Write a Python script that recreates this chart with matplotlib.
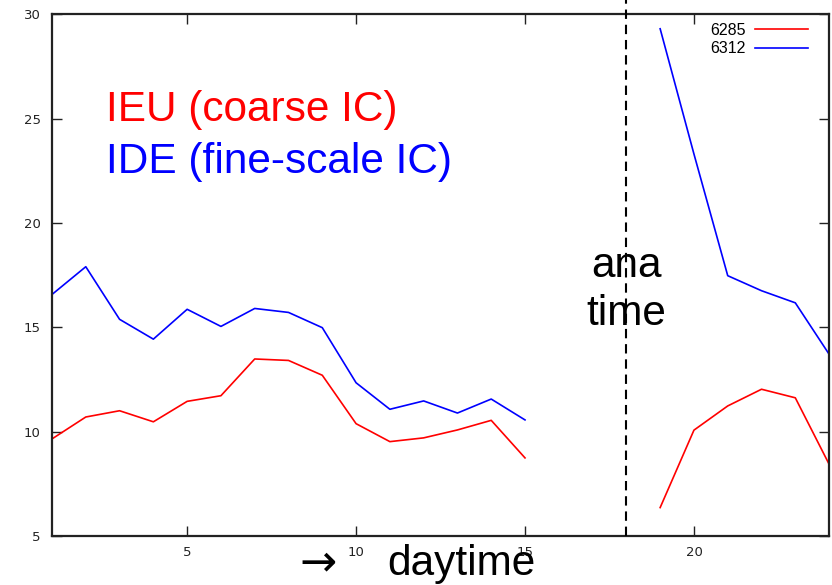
import numpy as np
import matplotlib
matplotlib.use("Agg")
import matplotlib.pyplot as plt

plt.rcParams['font.family'] = ['Liberation Sans', 'DejaVu Sans']

hours = list(range(1, 25))
nan = np.nan
run_6285 = [9.65, 10.7, 11.0, 10.47, 11.45, 11.72, 13.48, 13.41, 12.7, 10.38,
            9.52, 9.7, 10.08, 10.54, 8.74, nan, nan, nan,
            6.36, 10.07, 11.23, 12.03, 11.62, 8.44]
run_6312 = [16.57, 17.9, 15.38, 14.43, 15.86, 15.04, 15.9, 15.71, 14.98, 12.34,
            11.07, 11.47, 10.89, 11.56, 10.56, nan, nan, nan,
            29.3, 23.3, 17.47, 16.75, 16.17, 13.71]
labels = ["6285", "6312"]
ana_time = 18
xticks = [5, 10, 15, 20]
yticks = [5, 10, 15, 20, 25, 30]

fig = plt.figure(figsize=(8.32, 5.85), dpi=100)
ax = fig.add_axes([0.0625, 0.0838, 0.934, 0.892])

ax.plot(hours, run_6285, color='#ff0000', lw=1.2, label=labels[0])
ax.plot(hours, run_6312, color='#0000ff', lw=1.2, label=labels[1])

ax.set_xlim(1, 24)
ax.set_ylim(5, 30)
ax.set_xticks(xticks)
ax.set_yticks(yticks)
ax.tick_params(direction='in', length=7, width=1, top=True, right=True,
               labelsize=9.5, colors='#222222')
for lab in ax.get_xticklabels() + ax.get_yticklabels():
    lab.set_family('DejaVu Sans')
ax.tick_params(axis='y', pad=8)
ax.tick_params(axis='x', pad=7)
for s in ax.spines.values():
    s.set_linewidth(1.6)
    s.set_color('#222222')

ax.axvline(ana_time, ymin=0, ymax=1.05, color='black', lw=1.5,
           ls=(0, (4.5, 2.8)), clip_on=False, zorder=5)

leg = ax.legend(loc='upper right', bbox_to_anchor=(0.973, 0.983),
                markerfirst=False, frameon=False,
                prop={'family': 'Liberation Sans', 'size': 11.5},
                handlelength=3.3, handletextpad=0.6,
                labelspacing=0.2, borderpad=0, borderaxespad=0)

ax.text(0.07, 0.817, "IEU (coarse IC)", color='#ff0000', fontsize=30.5,
        transform=ax.transAxes, ha='left', va='center')
ax.text(0.07, 0.717, "IDE (fine-scale IC)", color='#0000ff', fontsize=30.5,
        transform=ax.transAxes, ha='left', va='center')
ax.text(ana_time, 16.8, "ana\ntime", color='black', fontsize=30.5,
        ha='center', va='center', linespacing=1.25, zorder=3)

fig.text(0.382, 0.037, "\u2192", fontsize=32, ha='center', va='center',
         family=['DejaVu Sans'])
fig.text(0.4655, 0.036, "daytime", fontsize=30.5, ha='left', va='center',
         zorder=4)

fig.savefig("out.png", dpi=100)
